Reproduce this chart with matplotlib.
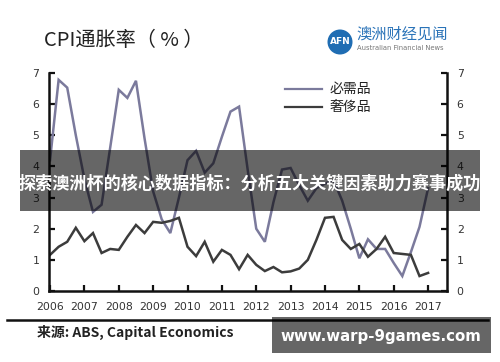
import matplotlib
matplotlib.use("Agg")
import matplotlib.pyplot as plt
from matplotlib.patches import Rectangle, Ellipse
from matplotlib.lines import Line2D
import numpy as np

plt.rcParams['font.family'] = ['Noto Sans CJK SC', 'DejaVu Sans']

# quarterly time axis 2006Q1 .. 2017Q1
quarters = [2006 + 0.25 * i for i in range(45)]
necessities = [4.2, 6.78, 6.53, 5.0, 3.6, 2.54, 2.77, 4.6, 6.46, 6.2, 6.75, 4.9,
               3.2, 2.3, 1.86, 3.0, 4.2, 4.5, 3.8, 4.1, 4.95, 5.76, 5.92, 3.9,
               2.0, 1.58, 2.85, 3.9, 3.95, 3.4, 2.9, 3.3, 3.45, 3.55, 2.9, 2.0,
               1.05, 1.66, 1.35, 1.35, 0.9, 0.48, 1.25, 2.06, 3.3]
luxuries = [1.16, 1.42, 1.58, 2.03, 1.6, 1.86, 1.22, 1.35, 1.32, 1.74, 2.12, 1.86,
            2.22, 2.19, 2.25, 2.35, 1.42, 1.12, 1.58, 0.94, 1.32, 1.16, 0.7, 1.16,
            0.84, 0.64, 0.77, 0.6, 0.63, 0.72, 1.0, 1.64, 2.35, 2.38, 1.64, 1.35,
            1.51, 1.1, 1.35, 1.74, 1.22, 1.19, 1.16, 0.48, 0.58]
years = list(range(2006, 2018))
yticks = [0, 1, 2, 3, 4, 5, 6, 7]
series_names = ['必需品', '奢侈品']

W, H = 500, 362
fig = plt.figure(figsize=(W / 100, H / 100), dpi=100)
fig.patch.set_facecolor('white')

def fx(x):
    return x / W

def fy(y):
    return 1 - y / H

ax = fig.add_axes([fx(49), fy(291), fx(447) - fx(49), fy(73) - fy(291)])
c_nec = '#7b7a9c'
c_lux = '#3c3c3c'
ax.plot(quarters, necessities, color=c_nec, lw=1.8, solid_joinstyle='miter')
ax.plot(quarters, luxuries, color=c_lux, lw=1.8, solid_joinstyle='miter')
ax.set_xlim(2005.97, 2017.55)
ax.set_ylim(0, 7)
ax.set_xticks(years)
ax.set_xticklabels([str(y) for y in years])
ax.set_yticks(yticks)
ax.spines['top'].set_visible(False)
for s in ['left', 'bottom', 'right']:
    ax.spines[s].set_linewidth(1.8)
    ax.spines[s].set_color('#111111')
ax.tick_params(axis='both', direction='in', length=4, width=1.6, colors='#111111',
               labelsize=7.8, labelcolor='#333333')
ax.tick_params(axis='y', right=True, labelright=True, pad=7)
ax.tick_params(axis='x', pad=8)
for lab in ax.get_xticklabels() + ax.get_yticklabels():
    lab.set_family('DejaVu Sans')

# legend (manual)
for yy, col, name in [(89, c_nec, series_names[0]), (107, c_lux, series_names[1])]:
    fig.add_artist(Line2D([fx(285), fx(322)], [fy(yy), fy(yy)], color=col, lw=1.6,
                          transform=fig.transFigure))
    fig.text(fx(330), fy(yy), name, fontsize=10, color='#222222', va='center', ha='left')

# title
fig.text(fx(44), fy(41), 'CPI通胀率（ % ）', fontsize=14.5, color='#222222', va='center', ha='left')

# logo
fig.add_artist(Ellipse((fx(340), fy(42)), 25 / W, 25 / H, transform=fig.transFigure,
                       facecolor='#1f6db3', edgecolor='none'))
fig.text(fx(340), fy(42), 'AFN', fontsize=6.5, color='white', ha='center', va='center',
         family='DejaVu Sans', fontweight='bold')
fig.text(fx(356), fy(34), '澳洲财经见闻', fontsize=11, color='#2a73b8', ha='left', va='center')
fig.text(fx(357), fy(48), 'Australian Financial News', fontsize=4.9, color='#777777',
         ha='left', va='center', family='DejaVu Sans')

# overlay band (semi-transparent)
fig.add_artist(Rectangle((fx(20), fy(211)), fx(480) - fx(20), fy(150) - fy(211),
                         transform=fig.transFigure, facecolor='black', alpha=0.6,
                         edgecolor='none', zorder=5))
fig.text(fx(250), fy(184), '探索澳洲杯的核心数据指标：分析五大关键因素助力赛事成功',
         fontsize=12.3, color='white', fontweight='bold', ha='center', va='center', zorder=6)

# source line
fig.text(fx(37), fy(332), '来源: ABS, Capital Economics', fontsize=10, fontweight='bold',
         color='#222222', ha='left', va='center')

fig.add_artist(Line2D([fx(7), fx(488)], [fy(320), fy(320)], color='#111111', lw=1.8,
                      transform=fig.transFigure, zorder=4))

# watermark box
fig.add_artist(Rectangle((fx(272), fy(353)), fx(491) - fx(272), fy(317) - fy(353),
                         transform=fig.transFigure, facecolor='black', alpha=0.6,
                         edgecolor='none', zorder=5))
fig.text(fx(381), fy(337), 'www.warp-9games.com', fontsize=10.8, color='white',
         fontweight='bold', ha='center', va='center', family='DejaVu Sans', zorder=6)

fig.savefig('out.png', dpi=100, facecolor='white')
